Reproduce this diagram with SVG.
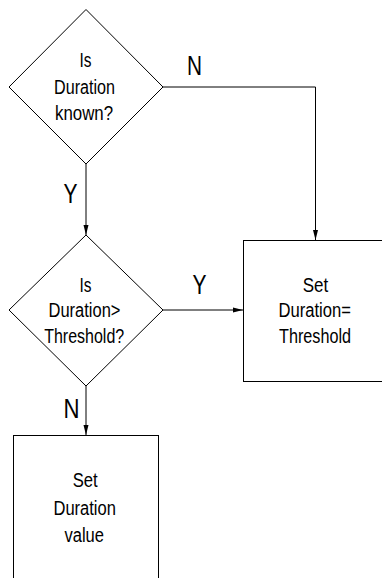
<svg xmlns="http://www.w3.org/2000/svg" width="382" height="578" viewBox="0 0 382 578">
<style>
.shape{fill:#fff;stroke:#000;stroke-width:1}
.conn{fill:none;stroke:#000;stroke-width:1}
.t{font-family:"Liberation Sans",Arial,sans-serif;font-size:19.5px;fill:#000;text-anchor:middle}
.lbl{font-family:"Liberation Sans",Arial,sans-serif;font-size:27px;fill:#000;text-anchor:start}
</style>
<defs>
<marker id="arr" markerUnits="userSpaceOnUse" markerWidth="10" markerHeight="6" refX="10" refY="3" orient="auto">
<path d="M0,0.5 L10,3 L0,5.5 z" fill="#000"/>
</marker>
</defs>
<rect width="382" height="578" fill="#fff"/>
<g id="connectors">
<polyline class="conn" points="163,87 315.5,87 315.5,240" marker-end="url(#arr)"/>
<line class="conn" x1="86" y1="164" x2="86" y2="235" marker-end="url(#arr)"/>
<line class="conn" x1="163" y1="310" x2="243" y2="310" marker-end="url(#arr)"/>
<line class="conn" x1="86" y1="386" x2="86" y2="435" marker-end="url(#arr)"/>
<text class="lbl" x="187" y="75" textLength="15" lengthAdjust="spacingAndGlyphs">N</text>
<text class="lbl" x="63.5" y="203" textLength="14" lengthAdjust="spacingAndGlyphs">Y</text>
<text class="lbl" x="192.5" y="294" textLength="14" lengthAdjust="spacingAndGlyphs">Y</text>
<text class="lbl" x="63.5" y="417.5" textLength="16" lengthAdjust="spacingAndGlyphs">N</text>
</g>
<g id="decision1">
<polygon class="shape" points="86,9.5 163,87 86,164 9,87"/>
<text class="t" x="85.5" y="67" textLength="12" lengthAdjust="spacingAndGlyphs">Is</text>
<text class="t" x="84.5" y="93.5" textLength="61" lengthAdjust="spacingAndGlyphs">Duration</text>
<text class="t" x="84" y="120" textLength="58" lengthAdjust="spacingAndGlyphs">known?</text>
</g>
<g id="decision2">
<polygon class="shape" points="86,235 163,310 86,386 9,310"/>
<text class="t" x="85.5" y="291.5" textLength="12" lengthAdjust="spacingAndGlyphs">Is</text>
<text class="t" x="84.5" y="317" textLength="72" lengthAdjust="spacingAndGlyphs">Duration&gt;</text>
<text class="t" x="84.2" y="343" textLength="80" lengthAdjust="spacingAndGlyphs">Threshold?</text>
</g>
<g id="setThreshold">
<rect class="shape" x="243.5" y="240.5" width="150" height="141"/>
<text class="t" x="315.5" y="291.5" textLength="25.5" lengthAdjust="spacingAndGlyphs">Set</text>
<text class="t" x="314.7" y="317" textLength="72.5" lengthAdjust="spacingAndGlyphs">Duration=</text>
<text class="t" x="315" y="343" textLength="72" lengthAdjust="spacingAndGlyphs">Threshold</text>
</g>
<g id="setValue">
<rect class="shape" x="13.5" y="435.5" width="145" height="150"/>
<text class="t" x="85.2" y="486.5" textLength="25" lengthAdjust="spacingAndGlyphs">Set</text>
<text class="t" x="84.7" y="514.5" textLength="62.5" lengthAdjust="spacingAndGlyphs">Duration</text>
<text class="t" x="84.2" y="541.5" textLength="39.5" lengthAdjust="spacingAndGlyphs">value</text>
</g>
</svg>
